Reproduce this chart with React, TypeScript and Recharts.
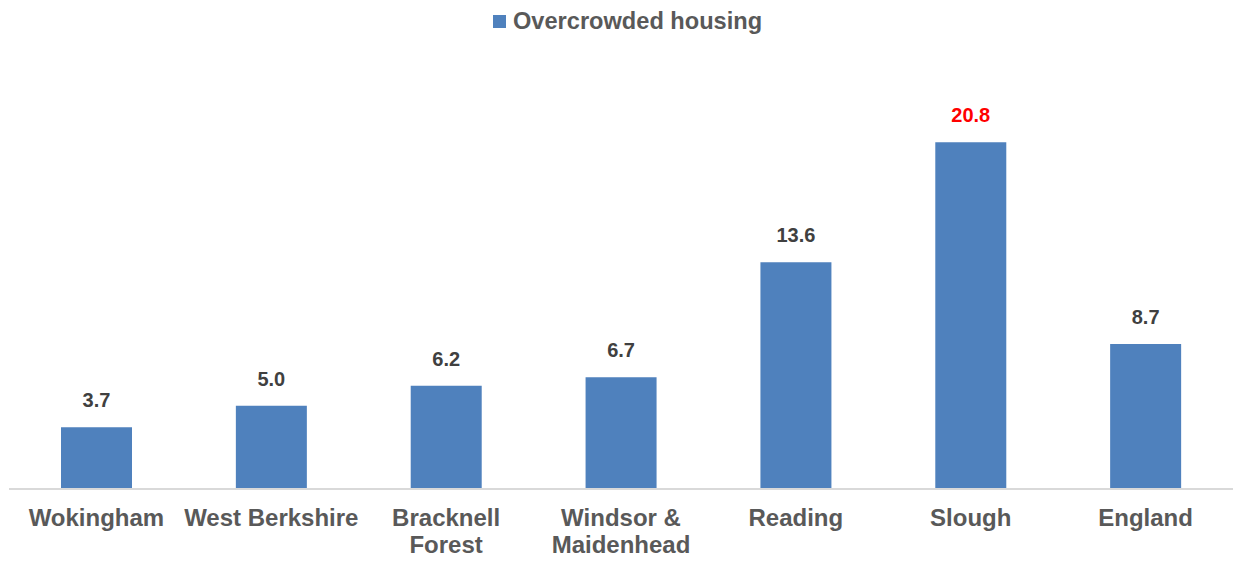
import React from "react";
import { BarChart, Bar, XAxis, YAxis, Legend, LabelList } from "recharts";

const categories = ["Wokingham", "West Berkshire", "Bracknell Forest", "Windsor & Maidenhead", "Reading", "Slough", "England"];
const values = [3.7, 5.0, 6.2, 6.7, 13.6, 20.8, 8.7];
const highlighted = ["Slough"];
const seriesName = "Overcrowded housing";

const data = categories.map((name, i) => ({ name, value: values[i] }));

const splitLabel = (s: string): string[] => {
  if (s.length <= 14) return [s];
  const idx = s.lastIndexOf(" ");
  return [s.slice(0, idx), s.slice(idx + 1)];
};

const CategoryTick = (props: any) => {
  const { x, y, payload } = props;
  const lines = splitLabel(payload.value);
  return (
    <g>
      {lines.map((l, i) => (
        <text
          key={i}
          x={x}
          y={y + 29 + i * 27}
          textAnchor="middle"
          fill="#595959"
          fontSize={24}
          fontWeight="bold"
          fontFamily="Liberation Sans, Arial, sans-serif"
        >
          {l}
        </text>
      ))}
    </g>
  );
};

const ValueLabel = (props: any) => {
  const { x, y, width, value, index } = props;
  const red = highlighted.includes(categories[index]);
  return (
    <text
      x={x + width / 2}
      y={y - 20}
      textAnchor="middle"
      fill={red ? "#ff0000" : "#404040"}
      fontSize={20}
      fontWeight="bold"
      fontFamily="Liberation Sans, Arial, sans-serif"
    >
      {Number(value).toFixed(1)}
    </text>
  );
};

const LegendContent = () => (
  <div style={{ display: "flex", alignItems: "center", fontFamily: "Liberation Sans, Arial, sans-serif" }}>
    <div style={{ width: 13, height: 13, background: "#4f81bd", marginRight: 7 }} />
    <span style={{ fontSize: 23.6, fontWeight: "bold", color: "#595959" }}>{seriesName}</span>
  </div>
);

export default function App() {
  return (
    <div style={{ position: "absolute", left: 0, top: 0, background: "#fff" }}>
      <BarChart width={1233} height={569} data={data} margin={{ top: 62, right: 0, left: 9, bottom: 0 }}>
        <XAxis
          dataKey="name"
          axisLine={{ stroke: "#d9d9d9", strokeWidth: 2 }}
          tickLine={false}
          tick={<CategoryTick />}
          height={80}
          interval={0}
        />
        <YAxis hide domain={[0, 24]} />
        <Legend
          verticalAlign="top"
          content={<LegendContent />}
          wrapperStyle={{ top: 8, left: 493, width: "auto" }}
        />
        <Bar dataKey="value" name={seriesName} fill="#4f81bd" barSize={71} isAnimationActive={false}>
          <LabelList dataKey="value" content={<ValueLabel />} />
        </Bar>
      </BarChart>
    </div>
  );
}
